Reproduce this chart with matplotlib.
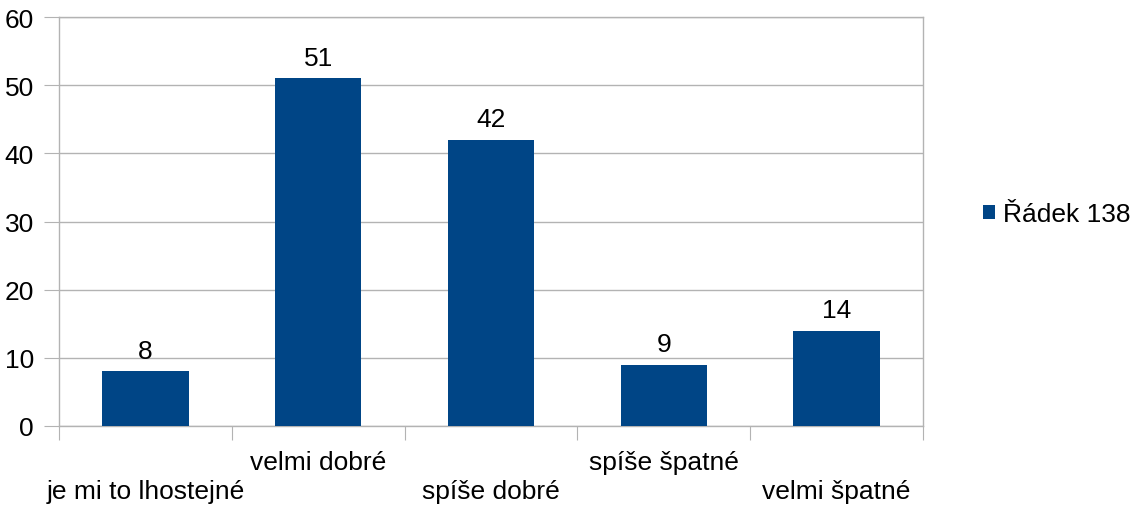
import matplotlib.pyplot as plt
import numpy as np

categories = ["je mi to lhostejné", "velmi dobré", "spíše dobré", "spíše špatné", "velmi špatné"]
values = [8, 51, 42, 9, 14]
series_name = "Řádek 138"
y_ticks = [0, 10, 20, 30, 40, 50, 60]

BAR_COLOR = "#004586"
GRID_COLOR = "#b3b3b3"
FONT_SIZE = 19

plt.rcParams["font.family"] = ["Liberation Sans", "DejaVu Sans"]

W, H = 1138, 510
fig = plt.figure(figsize=(W / 100, H / 100), dpi=100)
ax = fig.add_axes([59 / W, (H - 427) / H, 864 / W, 409 / H])

x = np.arange(len(categories))
bars = ax.bar(x, values, width=0.5, color=BAR_COLOR, label=series_name, zorder=3)

ax.set_xlim(-0.5, len(categories) - 0.5)
ax.set_ylim(0, 60)
ax.set_yticks(y_ticks)
ax.tick_params(axis="y", length=11, color=GRID_COLOR, labelsize=FONT_SIZE, pad=7)
ax.yaxis.grid(True, color=GRID_COLOR, linewidth=1, zorder=0)

# ticks on category boundaries, labels placed by hand (staggered)
ax.set_xticks(np.arange(len(categories) + 1) - 0.5)
ax.set_xticklabels([])
ax.tick_params(axis="x", length=10, color=GRID_COLOR)

for i, name in enumerate(categories):
    offset = -47 if i % 2 == 0 else -26
    ax.annotate(name, xy=(i, 0), xycoords=("data", "axes fraction"),
                xytext=(0, offset), textcoords="offset points",
                ha="center", va="center", fontsize=FONT_SIZE)

for bar, v in zip(bars, values):
    ax.annotate(str(v), xy=(bar.get_x() + bar.get_width() / 2, v),
                xytext=(0, 6), textcoords="offset points",
                ha="center", va="bottom", fontsize=FONT_SIZE)

for spine in ax.spines.values():
    spine.set_color(GRID_COLOR)
    spine.set_linewidth(1)

fig.legend(loc="center left", bbox_to_anchor=(983 / W, 1 - 215 / H),
           frameon=False, fontsize=FONT_SIZE, handlelength=0.45,
           handleheight=0.45, handletextpad=0.3, borderpad=0, borderaxespad=0)

fig.savefig("out.png", dpi=100)
